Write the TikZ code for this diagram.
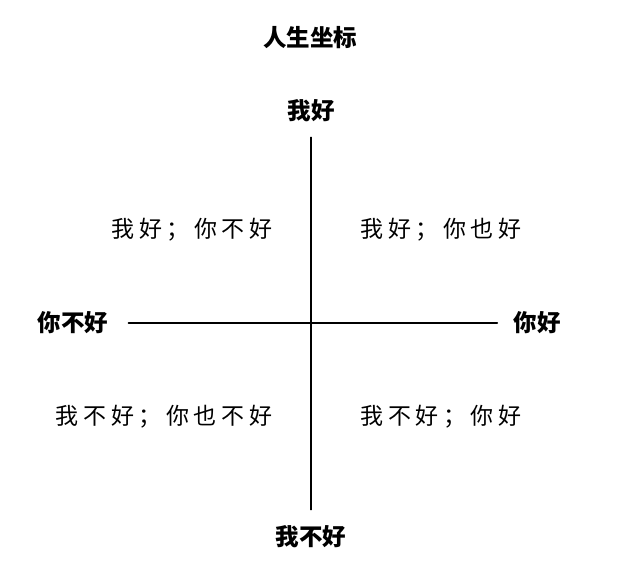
\documentclass[tikz,border=0pt]{standalone}
\usepackage{fontspec}
\newfontfamily\cjk{Noto Sans CJK SC}
\newfontfamily\cjkwide[LetterSpace=20]{Noto Sans CJK SC}
\usetikzlibrary{positioning}
\begin{document}
\begin{tikzpicture}[x=1pt,y=-1pt,line join=round,line cap=round,
	axislabel/.style={font=\cjk\bfseries\fontsize{23.5}{23.5}\selectfont,inner sep=0pt},
	quad/.style={font=\cjkwide\fontsize{23}{23}\selectfont,inner sep=0pt},
	axis/.style={line width=1.6pt}]
	\useasboundingbox (0,0) rectangle (621,562);
	\node[axislabel] (title) at (310,38) {人生坐标};
	% axis ends
	\node[axislabel] (top) at (311,111) {我好};
	\node[axislabel] (bottom) at (311,537) {我不好};
	\node[axislabel] (left) at (73,323) {你不好};
	\node[axislabel] (right) at (537,323) {你好};
	\draw[axis,shorten <=15pt,shorten >=16pt] (top) -- (bottom);
	\draw[axis,shorten <=20pt,shorten >=16pt] (left) -- (right);
	% quadrants
	\node[quad] (q1) at (441,230) {我好；你也好};
	\node[quad] (q2) at (192,230) {我好；你不好};
	\node[quad] (q3) at (164,417) {我不好；你也不好};
	\node[quad] (q4) at (441,417) {我不好；你好};
\end{tikzpicture}
\end{document}
